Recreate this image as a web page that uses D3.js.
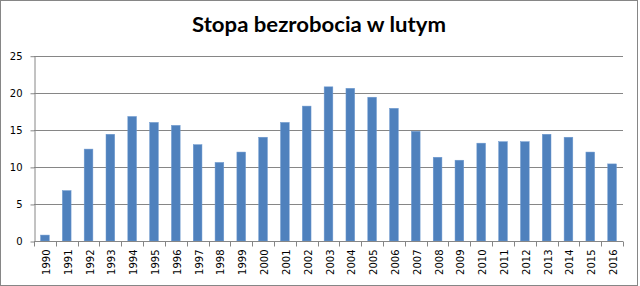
<!DOCTYPE html>
<html lang="pl">
<head>
  <meta charset="utf-8">
  <title>Stopa bezrobocia w lutym</title>
  <script src="https://d3js.org/d3.v7.min.js"></script>
  <style>
    body { margin: 0; background: #fff; }
    .axis-label { font-family: "DejaVu Sans", Verdana, sans-serif; font-size: 10px; fill: #000; }
  </style>
</head>
<body>
<svg id="chart" width="640" height="286"></svg>
<script>
  // data
  const years = ["1990","1991","1992","1993","1994","1995","1996","1997","1998","1999",
                 "2000","2001","2002","2003","2004","2005","2006","2007","2008","2009",
                 "2010","2011","2012","2013","2014","2015","2016"];
  const rates = [0.8, 6.8, 12.4, 14.4, 16.8, 16.0, 15.6, 13.0, 10.6, 12.0,
                 14.0, 16.0, 18.2, 20.8, 20.6, 19.4, 17.9, 14.8, 11.3, 10.9,
                 13.2, 13.4, 13.4, 14.4, 14.0, 12.0, 10.4];
  const yTicks = [0, 5, 10, 15, 20, 25];
  const title = "Stopa bezrobocia w lutym";

  const svg = d3.select("#chart");
  const plotLeft = 34, plotRight = 623, plotTop = 55.7, plotBottom = 241;
  const grey = "#868686";

  // outer frame
  svg.append("rect")
    .attr("x", 0.5).attr("y", 0.5)
    .attr("width", 637).attr("height", 285)
    .attr("fill", "#fff").attr("stroke", grey);

  svg.append("text")
    .attr("x", 319).attr("y", 32)
    .attr("text-anchor", "middle")
    .attr("textLength", 254)
    .attr("lengthAdjust", "spacingAndGlyphs")
    .style("font-family", "Lato, 'Open Sans', sans-serif")
    .style("font-weight", "bold")
    .style("font-size", "21px")
    .text(title);

  const xb = d3.scaleBand().domain(years).range([plotLeft, plotRight]);
  const y = d3.scaleLinear().domain([0, 25]).range([plotBottom, plotTop]);

  // gridlines
  svg.append("g").selectAll("line")
    .data(yTicks.filter(d => d > 0))
    .enter().append("line")
    .attr("x1", plotLeft).attr("x2", plotRight)
    .attr("y1", d => Math.round(y(d)) + 0.5).attr("y2", d => Math.round(y(d)) + 0.5)
    .attr("stroke", grey);

  // bars
  const barW = 8.7;
  svg.append("g").selectAll("rect")
    .data(years)
    .enter().append("rect")
    .attr("x", d => xb(d) + (xb.bandwidth() - barW) / 2)
    .attr("width", barW)
    .attr("y", (d, i) => y(rates[i]))
    .attr("height", (d, i) => plotBottom - y(rates[i]))
    .attr("fill", "#4F81BD")
    .attr("stroke", "#6f9ad0")
    .attr("stroke-width", 0.5);

  // y axis
  const yAxis = svg.append("g")
    .attr("transform", `translate(${plotLeft + 0.5},0.5)`)
    .call(d3.axisLeft(y).tickValues(yTicks).tickSize(4).tickPadding(8).tickSizeOuter(0));
  yAxis.select(".domain").attr("stroke", grey);
  yAxis.selectAll(".tick line").attr("stroke", grey);
  yAxis.selectAll(".tick text").attr("class", "axis-label").attr("fill", "#000");

  // x axis
  const xAxis = svg.append("g")
    .attr("transform", `translate(0,${Math.round(plotBottom) + 0.5})`);
  xAxis.append("line")
    .attr("x1", plotLeft).attr("x2", plotRight)
    .attr("stroke", grey);
  const bounds = years.map(d => xb(d)).concat([plotRight]);
  xAxis.selectAll(".xt")
    .data(bounds)
    .enter().append("line")
    .attr("class", "xt")
    .attr("x1", d => Math.round(d) + 0.5).attr("x2", d => Math.round(d) + 0.5)
    .attr("y1", 0).attr("y2", 5)
    .attr("stroke", grey);
  xAxis.selectAll(".xl")
    .data(years)
    .enter().append("text")
    .attr("class", "axis-label xl")
    .attr("text-anchor", "end")
    .attr("dy", "0.35em")
    .attr("transform", d => `translate(${xb(d) + xb.bandwidth() / 2 + 1.5},8) rotate(-90)`)
    .text(d => d);
</script>
</body>
</html>
